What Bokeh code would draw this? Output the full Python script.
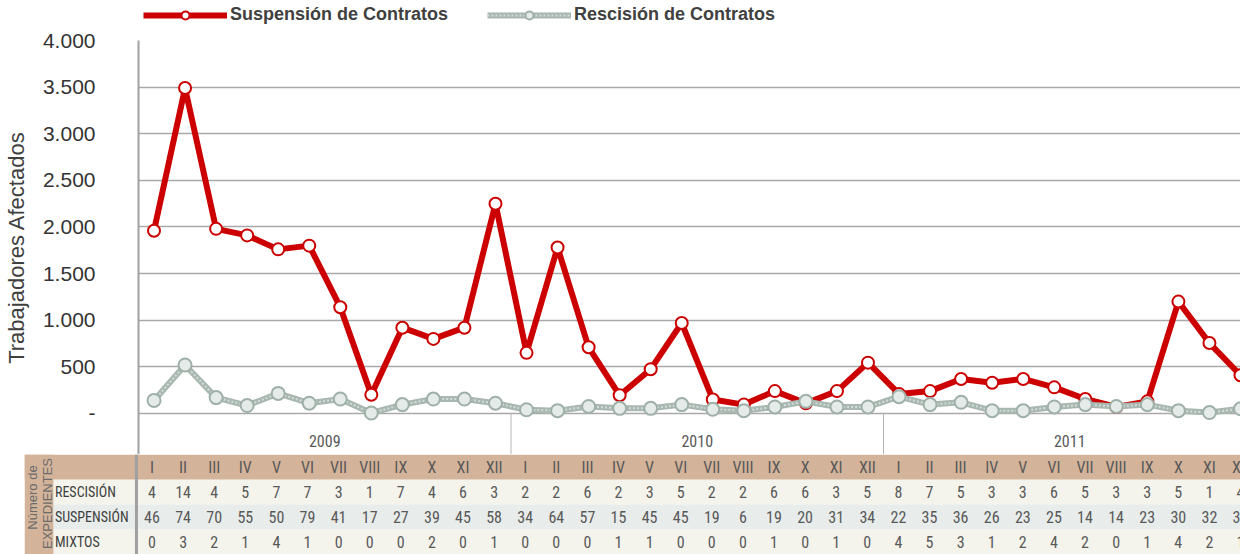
import numpy as np
from bokeh.plotting import figure
from bokeh.models import Range1d, FixedTicker, Legend, LegendItem, ColumnDataSource
from bokeh.embed import file_html
from bokeh.resources import INLINE
from bokeh.core.properties import value

# ---------------- data ----------------
years = ["2009", "2010", "2011"]
roman = ["I", "II", "III", "IV", "V", "VI", "VII", "VIII", "IX", "X", "XI", "XII"]
series_names = ["Suspensión de Contratos", "Rescisión de Contratos"]

suspension = [1960, 3490, 1980, 1910, 1760, 1800, 1140, 200, 920, 800, 920, 2250,
              650, 1780, 710, 195, 475, 970, 150, 95, 240, 110, 240, 545,
              210, 240, 370, 330, 370, 280, 155, 70, 130, 1200, 755, 410]
rescision = [140, 520, 170, 85, 215, 110, 155, 5, 95, 155, 155, 110,
             40, 30, 75, 55, 55, 95, 45, 30, 70, 130, 70, 70,
             180, 95, 120, 30, 30, 70, 95, 75, 95, 30, 10, 50]

row_labels = ["RESCISIÓN", "SUSPENSIÓN", "MIXTOS"]
exp_rescision = [4, 14, 4, 5, 7, 7, 3, 1, 7, 4, 6, 3,
                 2, 2, 6, 2, 3, 5, 2, 2, 6, 6, 3, 5,
                 8, 7, 5, 3, 3, 6, 5, 3, 3, 5, 1, 4]
exp_suspension = [46, 74, 70, 55, 50, 79, 41, 17, 27, 39, 45, 58,
                  34, 64, 57, 15, 45, 45, 19, 6, 19, 20, 31, 34,
                  22, 35, 36, 26, 23, 25, 14, 14, 23, 30, 32, 31]
exp_mixtos = [0, 3, 2, 1, 4, 1, 0, 0, 0, 2, 0, 1,
              0, 0, 0, 1, 1, 0, 0, 0, 1, 0, 1, 0,
              4, 5, 3, 1, 2, 4, 2, 0, 1, 4, 2, 1]

y_ticks = [0, 500, 1000, 1500, 2000, 2500, 3000, 3500, 4000]

# ---------------- derived ----------------
n = len(years) * len(roman)
xs = np.arange(n) + 0.5
months = roman * len(years)
year_centers = [i * len(roman) + len(roman) / 2 for i in range(len(years))]
year_bounds = [i * len(roman) for i in range(1, len(years))]

X_END = 35.5
NARROW = "'Liberation Sans Narrow', 'Roboto Condensed', 'Liberation Sans', sans-serif"
ARIAL = "'Liberation Sans', Arial, sans-serif"
TXT = "#595959"

RED_LINE = dict(line_color="#cc0000", line_width=6, line_join="round")
RED_PTS = dict(size=12, fill_color="white", line_color="#cc0000", line_width=2)
GRAY_LINE = dict(line_color="#a8b7b0", line_width=6, line_join="round")
GRAY_DASH = dict(line_color="#d3dcd8", line_width=2, line_dash="2 2")
GRAY_PTS = dict(size=13, fill_color="#e4ebe8", line_color="#9fb0a8", line_width=2)

# ---------------- legend strip ----------------
lg = figure(width=1240, height=30, x_range=Range1d(0, 1240), y_range=Range1d(0, 30),
            x_axis_location=None, y_axis_location=None, output_backend="svg", toolbar_location=None,
            min_border_left=0, min_border_right=0, min_border_top=0, min_border_bottom=0)
lg.outline_line_color = None
lg.grid.visible = False
hx, hy = [-100, -90], [-100, -100]   # kept outside the visible range: only the legend swatches show
l1 = lg.line(hx, hy, **RED_LINE)
l2 = lg.scatter(hx, hy, **RED_PTS)
l3 = lg.line(hx, hy, **GRAY_LINE)
l4 = lg.line(hx, hy, **GRAY_DASH)
l5 = lg.scatter(hx, hy, **GRAY_PTS)
legend = Legend(items=[LegendItem(label=series_names[0], renderers=[l1, l2]),
                       LegendItem(label=series_names[1], renderers=[l3, l4, l5])],
                location=(143, 5), orientation="horizontal")
legend.label_text_font = ARIAL
legend.label_text_font_size = "18px"
legend.label_text_font_style = "bold"
legend.label_text_color = "#404040"
legend.glyph_width = 84
legend.glyph_height = 20
legend.label_height = 20
legend.label_standoff = 3
legend.spacing = 39
legend.padding = 0
legend.margin = 0
legend.border_line_color = None
legend.background_fill_alpha = 0
lg.add_layout(legend)

# ---------------- main chart ----------------
p = figure(width=1240, height=424, x_range=Range1d(0, X_END), y_range=Range1d(-440, 4000),
           x_axis_location=None, output_backend="svg", toolbar_location=None,
           min_border_left=136, min_border_right=0, min_border_top=10, min_border_bottom=0)
p.outline_line_color = None
p.background_fill_color = "white"
p.xgrid.visible = False
p.ygrid.ticker = FixedTicker(ticks=y_ticks)
p.ygrid.grid_line_color = "#a9a9a9"
p.ygrid.grid_line_width = 1.5

ax = p.yaxis[0]
ax.ticker = FixedTicker(ticks=y_ticks)
ax.major_label_overrides = {t: ("-" if t == 0 else f"{t:,}".replace(",", ".")) for t in y_ticks}
ax.axis_line_color = "#a0a0a0"
ax.axis_line_width = 2
ax.major_tick_line_color = None
ax.minor_tick_line_color = None
ax.major_label_text_font = ARIAL
ax.major_label_text_font_size = "21px"
ax.major_label_text_color = "#333333"
ax.major_label_standoff = 37
ax.axis_label = "Trabajadores Afectados"
ax.axis_label_text_font = ARIAL
ax.axis_label_text_font_size = "22px"
ax.axis_label_text_font_style = "normal"
ax.axis_label_text_color = "#404040"
ax.axis_label_standoff = 11

# year band
p.segment(x0=year_bounds, x1=year_bounds, y0=[0] * len(year_bounds), y1=[-440] * len(year_bounds),
          line_color="#b5b5b5", line_width=1)
p.text(x=year_centers, y=[-290] * len(years), text=years, text_align="center",
       text_baseline="middle", text_font=value(NARROW), text_font_size="16px", text_color=TXT)

src = ColumnDataSource(dict(x=xs, s=suspension, r=rescision))
p.line("x", "s", source=src, **RED_LINE)
p.scatter("x", "s", source=src, **RED_PTS)
p.line("x", "r", source=src, **GRAY_LINE)
p.line("x", "r", source=src, **GRAY_DASH)
p.scatter("x", "r", source=src, **GRAY_PTS)

# ---------------- table ----------------
t = figure(width=1240, height=100, x_range=Range1d(-3.6, X_END), y_range=Range1d(4, 0),
           x_axis_location=None, y_axis_location=None, output_backend="svg", toolbar_location=None,
           min_border_left=24, min_border_right=0, min_border_top=0, min_border_bottom=0)
t.outline_line_color = None
t.grid.visible = False

LBL_L = -3.6
LBL_R = -2.67
t.quad(left=[LBL_R, LBL_R, LBL_R], right=[X_END + 1] * 3, top=[1, 2, 3], bottom=[2, 3, 4],
       fill_color=["#f4f4ec", "#e8ecea", "#f4f4ec"], line_color=None)
t.quad(left=[LBL_L], right=[X_END + 1], top=[0], bottom=[1], fill_color="#d3b399", line_color=None)
t.quad(left=[LBL_L], right=[LBL_R], top=[0], bottom=[4], fill_color="#d3b399", line_color=None)
t.segment(x0=[0], x1=[0], y0=[0], y1=[4], line_color="#a0a0a0", line_width=3)

t.text(x=xs, y=[0.5] * n, text=months, text_align="center", text_baseline="middle",
       text_font=value(NARROW), text_font_size="16px", text_color=TXT)
for i, vals in enumerate([exp_rescision, exp_suspension, exp_mixtos]):
    t.text(x=xs, y=[1.5 + i] * n, text=[str(v) for v in vals], text_align="center",
           text_baseline="middle", text_font=value(NARROW), text_font_size="16px", text_color=TXT)
t.text(x=[-2.62] * 3, y=[1.5, 2.5, 3.5], text=row_labels, text_align="left", text_baseline="middle",
       text_font=value(NARROW), text_font_size="14px", text_color="#404040")
t.text(x=[-3.33, -2.85], y=[1.72, 1.96], text=["Número de", "EXPEDIENTES"], angle=np.pi / 2,
       text_align="center", text_baseline="middle", text_font=value(ARIAL),
       text_font_size="13px", text_color="#6b6b6b")

open("out.html", "w").write(file_html([lg, p, t], INLINE))
